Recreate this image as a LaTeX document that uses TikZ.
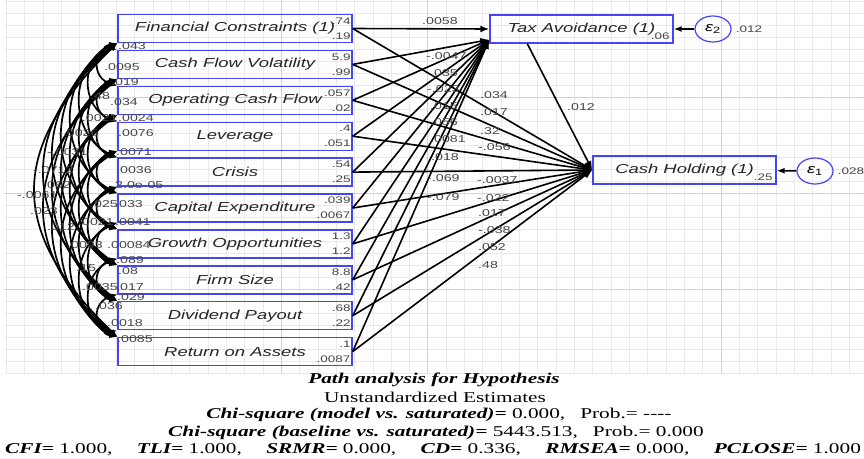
\documentclass[tikz,border=0pt]{standalone}
\usepackage{fontspec}
\setmainfont{Liberation Serif}[FakeStretch=1.42]
\setsansfont{Liberation Sans}[FakeStretch=1.42]
\usetikzlibrary{%
  arrows.meta,%
  calc,%
  shapes.geometric%
}

\definecolor{semblue}{RGB}{70,70,240}
\definecolor{gridline}{RGB}{233,233,238}
\definecolor{gridmajor}{RGB}{195,210,250}
\definecolor{numgray}{RGB}{70,70,70}

\begin{document}
\begin{tikzpicture}[x=1pt,y=1pt,
  varbox/.style={draw=semblue,line width=1.4pt,minimum width=234pt,minimum height=28pt,inner sep=0pt,font=\sffamily\itshape\fontsize{13}{15}\selectfont,text=black!85},
  endobox/.style={varbox,minimum width=183pt},
  errnode/.style={draw=semblue,line width=1.2pt,ellipse,minimum width=36pt,minimum height=26pt,inner sep=0pt,font=\sffamily\fontsize{13}{15}\selectfont},
  numlbl/.style={inner sep=0pt,text=numgray,font=\sffamily\fontsize{9.5}{11}\selectfont},
  coeflbl/.style={numlbl,anchor=west,font=\sffamily\fontsize{10}{12}\selectfont},
  regline/.style={line width=1.6pt,-{Latex[length=9pt,width=7pt]}},
  covline/.style={line width=1.7pt,{Latex[length=8pt,width=6pt]}-{Latex[length=8pt,width=6pt]}},
  errline/.style={line width=1.5pt,-{Latex[length=8pt,width=6pt]}},
  captxt/.style={inner sep=0pt,font=\rmfamily\fontsize{15}{17}\selectfont}
]
  \useasboundingbox[fill=white] (0,0) rectangle (864,-458);

  % grid
  \foreach \k in {0,...,31}
    \draw[gridline,line width=0.8pt] (4,{-1-12*\k}) -- (864,{-1-12*\k});
  \foreach \k in {0,...,46}
    \draw[gridline,line width=0.8pt] ({6.3+18.33*\k},0) -- ({6.3+18.33*\k},-373);
  \foreach \k in {8,16,24}
    \draw[gridmajor,line width=1pt] (4,{-1-12*\k}) -- (864,{-1-12*\k});
  \foreach \k in {15,23,39}
    \draw[gridmajor,line width=1pt] ({6.3+18.33*\k},0) -- ({6.3+18.33*\k},-373);

  % observed exogenous variables
  \foreach \txt/\mean/\var [count=\i] in {Financial Constraints (1)/.74/.19,
      Cash Flow Volatility/5.9/.99, Operating Cash Flow/.057/.02,
      Leverage/.4/.051, Crisis/.54/.25, Capital Expenditure/.039/.0067,
      Growth Opportunities/1.3/1.2, Firm Size/8.8/.42,
      Dividend Payout/.68/.22, Return on Assets/.1/.0087}{
    \node[varbox] (iv\i) at (235,{-28.5-35.9*(\i-1)}) {\txt};
    \node[numlbl,anchor=east] at ($(iv\i.east)+(-2,7.5)$) {\mean};
    \node[numlbl,anchor=east] at ($(iv\i.east)+(-2,-7.5)$) {\var};
  }

  % endogenous variables and errors
  \node[endobox] (tax) at (581.5,-29) {Tax Avoidance (1)};
  \node[endobox] (cash) at (684.5,-170) {Cash Holding (1)};
  \node[numlbl,anchor=east] at ($(tax.east)+(-4,-7)$) {.06};
  \node[numlbl,anchor=east] at ($(cash.east)+(-4,-7)$) {.25};
  \node[errnode] (e2) at (713,-29) {{\itshape ε}\textsubscript{2}};
  \node[errnode] (e1) at (815,-171) {{\itshape ε}\textsubscript{1}};
  \node[numlbl,anchor=west] at ($(e2.east)+(4,0)$) {.012};
  \node[numlbl,anchor=west] at ($(e1.east)+(4,0)$) {.028};
  \draw[errline] (e2) -- (tax);
  \draw[errline] (e1) -- (cash);

  \coordinate (taxin) at ($(tax.south west)+(0,4)$);
  \coordinate (taxout) at ($(tax.south west)+(38,0)$);

  % covariances
  \foreach \i in {1,...,9}{
    \pgfmathtruncatemacro\nxt{\i+1}
    \foreach \j in {\nxt,...,10}{
      \pgfmathsetmacro\ang{12+4*(\j-\i-1)}
      \pgfmathsetmacro\dist{(10+9*(\j-\i-1))/(0.75*cos(\ang))}
      \draw[covline] (iv\i.south west) to[out=180+\ang,in=180-\ang,distance=\dist pt] (iv\j.north west);
    }
  }

  % paths
  \draw[regline] (iv1.east) -- (tax.west);
  \foreach \i in {2,...,10}
    \draw[regline] (iv\i.east) -- (taxin);
  \foreach \i in {1,...,10}
    \draw[regline] (iv\i.east) -- (cash.west);
  \draw[regline] (taxout) -- (cash.west);

  % coefficients
  \foreach \val/\x/\y in {.0058/422/21, -.0047/426/56, .035/430/73, -.023/427/89,
      .015/430/106, .056/430/122, .0081/430/139, .018/431/157, -.069/427/178, -.079/427/197}
    \node[coeflbl] at (\x,-\y) {\val};
  \foreach \val/\x/\y in {.034/480/95, .017/480/112, .32/480/131, -.056/478/147,
      -.0037/477/180, -.022/477/198, .017/478/213, -.038/478/230, .052/478/247, .48/478/265}
    \node[coeflbl] at (\x,-\y) {\val};
  \node[coeflbl] at (567,-107) {.012};

  % covariance values
  \foreach \val/\x/\y in {.043/118/46, .0095/104/67, .019/111/82, .48/90/96, .034/110/102,
      -.0021/77/118, .0024/118/118, -.0026/58/133, .0076/118/133, -.0031/47/152,
      .0071/116/152, -.0712/33/170, .0036/116/170, .062/43/185, 2.0e-05/115/185,
      -.0061/17/195, .023/30/211, .025/90/204, .033/115/204, .012/47/227,
      .0021/78/222, .0041/115/222, .0093/67/245, .00084/107/245, .089/116/260,
      .15/76/268, .08/118/271, .0035/82/287, .017/116/287, .029/117/297,
      .036/95/306, .0018/107/323, .0085/117/339}
    \node[coeflbl] at (\x,-\y) {\val};

  % caption
  \node[captxt] (cap1) at (434,-380) {\textbf{\textit{Path analysis for Hypothesis}}};
  \node[captxt] (cap2) at (435,-397.5) {Unstandardized Estimates};
  \node[captxt] (cap3) at (439,-415) {\textbf{\textit{Chi-square (model vs. saturated)=}} 0.000,\quad Prob.= -{}-{}-{}-};
  \node[captxt] (cap4) at (436,-432.5) {\textbf{\textit{Chi-square (baseline vs. saturated)=}} 5443.513,\quad Prob.= 0.000};
  \node[captxt] (cap5) at (433,-450) {\textbf{\textit{CFI=}} 1.000,\quad\hspace{9.4pt}\textbf{\textit{TLI=}} 1.000,\quad\hspace{9.4pt}%
    \textbf{\textit{SRMR=}} 0.000,\quad\hspace{9.4pt}\textbf{\textit{CD=}} 0.336,\quad\hspace{9.4pt}%
    \textbf{\textit{RMSEA=}} 0.000,\quad\hspace{9.4pt}\textbf{\textit{PCLOSE=}} 1.000};
\end{tikzpicture}
\end{document}
